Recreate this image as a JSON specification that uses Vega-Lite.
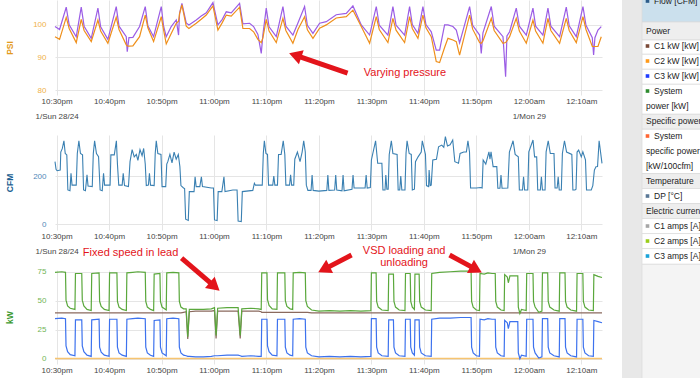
{
"$schema": "https://vega.github.io/schema/vega-lite/v6.json",
"background": "white",
"padding": {"left": 5, "top": 0, "right": 0, "bottom": 0},
"config": {
 "font": "Liberation Sans",
 "view": {"stroke": null},
 "axis": {"domain": false, "ticks": false, "gridColor": "#e5e5e5", "gridWidth": 1, "labelFontSize": 8, "titleFontSize": 8.5, "titleFontWeight": "bold"},
 "axisX": {"labelColor": "#444", "labelPadding": 2, "labelLineHeight": 15, "labelFlush": false, "labelOverlap": false},
 "axisY": {"labelPadding": 9, "titleX": -46, "titleBaseline": "middle", "titleAngle": -90}
},
"datasets": {
 "psi": [
  {"m":-0.3,"a":99.4,"b":96.3},{"m":0.57,"a":98.5,"b":95.5},{"m":1.84,"a":105.3,"b":102.2},{"m":2.4,"a":99.9,"b":98.8},{"m":3.75,"a":96.3,"b":94.5},
  {"m":4.7,"a":105.3,"b":101.6},{"m":5.25,"a":99.5,"b":98.2},{"m":6.61,"a":95.8,"b":94.8},{"m":7.88,"a":105.0,"b":101.4},{"m":8.4,"a":99.3,"b":98.0},
  {"m":9.78,"a":95.5,"b":94.3},{"m":11.37,"a":105.5,"b":102.2},{"m":11.9,"a":99.5,"b":98.5},{"m":13.28,"a":96.3,"b":93.8},{"m":13.47,"a":91.7,"b":93.5},
  {"m":13.79,"a":96.0,"b":93.4},{"m":14.55,"a":96.1,"b":93.5},{"m":15.82,"a":99.4,"b":96.3},{"m":16.9,"a":105.5,"b":102.9},{"m":17.4,"a":99.6,"b":99.0},
  {"m":18.49,"a":96.3,"b":94.8},{"m":19.95,"a":105.5,"b":102.4},{"m":20.4,"a":99.5,"b":98.3},{"m":20.9,"a":96.3,"b":94.1},{"m":21.85,"a":99.4,"b":97.3},
  {"m":22.81,"a":101.4,"b":100.4},{"m":23.25,"a":96.8,"b":101.0},{"m":23.44,"a":103.5,"b":103.3},{"m":23.89,"a":106.5,"b":106.0},{"m":24.71,"a":100.5,"b":99.5},
  {"m":25.22,"a":99.9,"b":98.8},{"m":26.62,"a":101.4,"b":100.4},{"m":27.57,"a":102.6,"b":101.6},{"m":28.53,"a":103.6,"b":102.9},{"m":29.8,"a":106.7,"b":105.7},
  {"m":30.75,"a":99.9,"b":98.3},{"m":31.58,"a":101.6,"b":100.6},{"m":32.34,"a":103.9,"b":102.9},{"m":33.29,"a":103.6,"b":102.6},{"m":34.88,"a":106.5,"b":105.3},
  {"m":35.51,"a":100.2,"b":98.8},{"m":36.79,"a":100.4,"b":98.8},{"m":37.55,"a":99.4,"b":97.8},{"m":38.37,"a":97.0,"b":95.5},{"m":39.01,"a":91.2,"b":94.5},
  {"m":39.33,"a":97.0,"b":96.0},{"m":39.96,"a":105.0,"b":101.6},{"m":40.5,"a":99.3,"b":98.0},{"m":41.87,"a":96.3,"b":94.5},{"m":43.14,"a":105.5,"b":101.9},
  {"m":43.7,"a":99.5,"b":98.2},{"m":45.04,"a":96.8,"b":94.3},{"m":46.0,"a":100.5,"b":98.5},{"m":47.27,"a":105.5,"b":102.4},{"m":47.8,"a":99.8,"b":98.4},
  {"m":48.86,"a":97.3,"b":95.8},{"m":50.13,"a":100.4,"b":98.9},{"m":51.4,"a":100.9,"b":99.9},{"m":53.3,"a":103.0,"b":102.0},{"m":55.21,"a":103.4,"b":102.4},
  {"m":56.48,"a":105.7,"b":104.4},{"m":58.07,"a":99.9,"b":99.4},{"m":59.66,"a":96.8,"b":94.3},{"m":60.93,"a":105.5,"b":102.4},{"m":61.5,"a":99.8,"b":98.5},
  {"m":63.15,"a":96.8,"b":94.5},{"m":64.1,"a":105.5,"b":101.9},{"m":64.7,"a":99.8,"b":98.3},{"m":66.33,"a":96.8,"b":94.5},{"m":67.28,"a":105.5,"b":102.4},
  {"m":67.8,"a":100.0,"b":98.8},{"m":68.87,"a":97.3,"b":95.8},{"m":69.82,"a":105.5,"b":102.9},{"m":70.4,"a":100.0,"b":99.0},{"m":71.41,"a":97.8,"b":96.3},
  {"m":72.36,"a":92.2,"b":88.7},{"m":73.0,"a":92.2,"b":88.4},{"m":73.95,"a":99.9,"b":93.0},{"m":74.59,"a":99.9,"b":95.8},{"m":75.54,"a":99.4,"b":95.3},
  {"m":76.18,"a":98.3,"b":94.8},{"m":76.81,"a":94.4,"b":90.7},{"m":78.72,"a":105.5,"b":102.9},{"m":79.3,"a":99.8,"b":98.6},{"m":80.62,"a":96.8,"b":94.5},
  {"m":80.94,"a":91.2,"b":94.3},{"m":81.26,"a":97.5,"b":95.0},{"m":82.85,"a":105.5,"b":101.9},{"m":83.4,"a":99.5,"b":98.2},{"m":85.08,"a":96.3,"b":94.3},
  {"m":85.58,"a":84.1,"b":94.5},{"m":85.83,"a":96.5,"b":95.0},{"m":86.34,"a":97.8,"b":96.3},{"m":87.61,"a":105.0,"b":101.9},{"m":88.2,"a":99.5,"b":98.0},
  {"m":89.52,"a":96.8,"b":94.3},{"m":90.79,"a":105.0,"b":101.4},{"m":91.3,"a":99.5,"b":98.0},{"m":92.69,"a":96.8,"b":94.3},{"m":93.65,"a":105.0,"b":101.9},
  {"m":94.2,"a":99.5,"b":98.2},{"m":95.87,"a":96.3,"b":94.3},{"m":97.14,"a":105.3,"b":101.9},{"m":97.7,"a":99.6,"b":98.2},{"m":99.05,"a":96.3,"b":94.5},
  {"m":100.32,"a":105.5,"b":102.4},{"m":100.9,"a":99.8,"b":98.5},{"m":102.1,"a":96.0,"b":93.3},{"m":102.35,"a":90.7,"b":93.3},{"m":102.6,"a":96.0,"b":93.3},
  {"m":103.18,"a":98.3,"b":93.3},{"m":103.81,"a":99.4,"b":96.3}
 ],
 "cfm": [
  {"m":-0.3,"v":260},{"m":-0.1,"v":228},{"m":0.1,"v":222},{"m":0.7,"v":225},{"m":0.8,"v":300},{"m":1.1,"v":315},{"m":1.4,"v":347},{"m":1.65,"v":294},{"m":1.95,"v":288},{"m":2.15,"v":142},
  {"m":2.55,"v":139},{"m":2.75,"v":211},{"m":2.95,"v":162},{"m":3.75,"v":162},{"m":3.95,"v":294},{"m":4.25,"v":347},{"m":4.55,"v":294},{"m":4.95,"v":288},{"m":5.15,"v":142},{"m":5.5,"v":139},
  {"m":5.8,"v":205},{"m":6.0,"v":158},{"m":6.8,"v":156},{"m":7.0,"v":294},{"m":7.25,"v":347},{"m":7.6,"v":294},{"m":8.0,"v":281},{"m":8.3,"v":142},{"m":8.7,"v":139},{"m":8.95,"v":211},
  {"m":9.15,"v":162},{"m":10.2,"v":162},{"m":10.35,"v":288},{"m":11.0,"v":288},{"m":11.4,"v":347},{"m":11.6,"v":250},{"m":11.85,"v":162},{"m":12.5,"v":162},{"m":12.7,"v":211},{"m":12.95,"v":160},
  {"m":13.7,"v":156},{"m":14.0,"v":260},{"m":14.4,"v":310},{"m":14.8,"v":280},{"m":15.2,"v":290},{"m":15.5,"v":265},{"m":15.9,"v":310},{"m":16.3,"v":285},{"m":16.6,"v":315},{"m":16.9,"v":250},
  {"m":17.1,"v":160},{"m":17.5,"v":162},{"m":17.7,"v":211},{"m":17.9,"v":162},{"m":18.6,"v":160},{"m":18.8,"v":294},{"m":19.0,"v":347},{"m":19.3,"v":294},{"m":19.9,"v":290},{"m":20.1,"v":156},
  {"m":20.8,"v":156},{"m":21.0,"v":250},{"m":21.2,"v":260},{"m":21.6,"v":290},{"m":22.0,"v":255},{"m":22.4,"v":300},{"m":22.8,"v":270},{"m":23.2,"v":290},{"m":23.5,"v":240},{"m":23.7,"v":160},
  {"m":24.2,"v":150},{"m":24.4,"v":148},{"m":24.6,"v":20},{"m":25.1,"v":15},{"m":25.3,"v":135},{"m":26.2,"v":135},{"m":26.4,"v":197},{"m":26.6,"v":156},{"m":27.3,"v":156},{"m":27.6,"v":197},
  {"m":27.8,"v":156},{"m":29.5,"v":150},{"m":29.9,"v":150},{"m":30.1,"v":17},{"m":30.6,"v":14},{"m":30.8,"v":135},{"m":31.5,"v":135},{"m":31.9,"v":197},{"m":32.1,"v":135},{"m":33.6,"v":142},
  {"m":34.4,"v":142},{"m":34.6,"v":12},{"m":35.2,"v":10},{"m":35.4,"v":135},{"m":37.4,"v":140},{"m":37.7,"v":170},{"m":37.9,"v":162},{"m":39.2,"v":162},{"m":39.4,"v":294},{"m":39.6,"v":347},
  {"m":39.9,"v":294},{"m":40.2,"v":290},{"m":40.4,"v":162},{"m":41.2,"v":162},{"m":41.4,"v":200},{"m":41.6,"v":162},{"m":42.1,"v":162},{"m":42.3,"v":290},{"m":42.8,"v":290},{"m":43.2,"v":347},
  {"m":43.5,"v":290},{"m":43.7,"v":162},{"m":44.4,"v":162},{"m":44.6,"v":205},{"m":44.8,"v":162},{"m":45.2,"v":162},{"m":45.4,"v":270},{"m":45.9,"v":300},{"m":46.4,"v":260},{"m":46.8,"v":300},
  {"m":47.1,"v":347},{"m":47.4,"v":300},{"m":47.6,"v":162},{"m":47.9,"v":140},{"m":48.5,"v":140},{"m":48.7,"v":204},{"m":48.9,"v":140},{"m":50.0,"v":137},{"m":51.5,"v":140},{"m":51.7,"v":204},
  {"m":51.9,"v":140},{"m":53.0,"v":142},{"m":53.2,"v":204},{"m":53.4,"v":142},{"m":54.4,"v":138},{"m":54.6,"v":204},{"m":54.8,"v":138},{"m":56.3,"v":145},{"m":56.5,"v":204},{"m":56.7,"v":150},
  {"m":58.8,"v":150},{"m":59.0,"v":204},{"m":59.2,"v":150},{"m":59.8,"v":152},{"m":60.0,"v":267},{"m":60.8,"v":347},{"m":61.2,"v":253},{"m":62.0,"v":253},{"m":62.2,"v":142},{"m":62.6,"v":142},
  {"m":62.75,"v":204},{"m":62.95,"v":145},{"m":63.2,"v":145},{"m":63.4,"v":290},{"m":63.8,"v":347},{"m":64.1,"v":294},{"m":64.9,"v":290},{"m":65.1,"v":142},{"m":65.4,"v":142},{"m":65.6,"v":200},
  {"m":65.8,"v":142},{"m":66.4,"v":142},{"m":66.6,"v":294},{"m":66.8,"v":347},{"m":67.2,"v":294},{"m":67.6,"v":290},{"m":67.8,"v":142},{"m":68.2,"v":145},{"m":68.4,"v":260},{"m":68.9,"v":280},
  {"m":69.5,"v":300},{"m":69.7,"v":347},{"m":70.3,"v":290},{"m":70.5,"v":160},{"m":70.9,"v":156},{"m":71.0,"v":225},{"m":71.2,"v":160},{"m":71.4,"v":162},{"m":71.7,"v":267},{"m":72.4,"v":270},
  {"m":72.8,"v":322},{"m":73.4,"v":329},{"m":73.8,"v":320},{"m":74.1,"v":364},{"m":74.5,"v":325},{"m":75.0,"v":330},{"m":75.5,"v":350},{"m":75.9,"v":260},{"m":76.6,"v":253},{"m":76.9,"v":294},
  {"m":77.6,"v":300},{"m":78.1,"v":300},{"m":78.4,"v":347},{"m":78.7,"v":300},{"m":78.9,"v":150},{"m":80.0,"v":150},{"m":80.8,"v":152},{"m":81.1,"v":150},{"m":81.3,"v":267},{"m":81.8,"v":250},
  {"m":82.4,"v":301},{"m":82.6,"v":270},{"m":82.8,"v":301},{"m":83.2,"v":239},{"m":83.9,"v":239},{"m":84.1,"v":149},{"m":84.5,"v":149},{"m":84.7,"v":204},{"m":84.9,"v":149},{"m":86.0,"v":150},
  {"m":86.3,"v":300},{"m":87.0,"v":347},{"m":87.4,"v":290},{"m":88.0,"v":280},{"m":88.2,"v":142},{"m":88.8,"v":142},{"m":89.0,"v":197},{"m":89.2,"v":142},{"m":89.8,"v":142},{"m":90.0,"v":301},
  {"m":90.8,"v":350},{"m":91.1,"v":280},{"m":91.5,"v":280},{"m":91.7,"v":142},{"m":92.2,"v":142},{"m":92.4,"v":197},{"m":92.6,"v":142},{"m":93.1,"v":142},{"m":93.3,"v":301},{"m":93.7,"v":347},
  {"m":94.1,"v":294},{"m":94.8,"v":294},{"m":95.0,"v":150},{"m":95.4,"v":150},{"m":95.6,"v":197},{"m":95.8,"v":142},{"m":96.2,"v":142},{"m":96.4,"v":294},{"m":96.8,"v":347},{"m":97.2,"v":300},
  {"m":98.2,"v":290},{"m":98.4,"v":142},{"m":98.8,"v":142},{"m":99.0,"v":145},{"m":99.2,"v":300},{"m":99.5,"v":308},{"m":100.0,"v":280},{"m":100.3,"v":301},{"m":100.8,"v":267},{"m":101.0,"v":142},
  {"m":101.9,"v":142},{"m":102.2,"v":160},{"m":102.5,"v":225},{"m":102.8,"v":239},{"m":103.1,"v":240},{"m":103.4,"v":347},{"m":103.95,"v":253}
 ],
 "kw": [
  {"m":-0.3,"c1":39.5,"c3":34.5,"sys":74.5},{"m":1.0,"c1":39.5,"c3":35,"sys":75},{"m":1.7,"c1":39.5,"c3":34.5,"sys":74.5},{"m":1.8,"c1":39.5,"c3":11,"sys":50.5},{"m":2.1,"c1":39.5,"c3":6,"sys":45.5},
  {"m":2.6,"c1":39.5,"c3":3.5,"sys":43.5},{"m":3.5,"c1":39.5,"c3":2.5,"sys":42.5},{"m":3.6,"c1":39.5,"c3":33.5,"sys":73.5},{"m":4.8,"c1":39.5,"c3":33.5,"sys":73.5},{"m":4.9,"c1":39.5,"c3":11,"sys":50.5},
  {"m":5.2,"c1":39.5,"c3":6,"sys":45.5},{"m":5.8,"c1":39.5,"c3":3,"sys":42.5},{"m":6.6,"c1":39.5,"c3":2,"sys":41.5},{"m":6.7,"c1":39.5,"c3":33.5,"sys":73.5},{"m":8.1,"c1":39.5,"c3":34,"sys":74},
  {"m":8.2,"c1":39.5,"c3":10,"sys":49.5},{"m":8.5,"c1":39.5,"c3":5.5,"sys":45},{"m":9.1,"c1":39.5,"c3":3,"sys":42.5},{"m":10.0,"c1":39.5,"c3":2,"sys":41.5},{"m":10.1,"c1":39.5,"c3":34,"sys":74},
  {"m":11.5,"c1":39.5,"c3":34,"sys":74},{"m":11.6,"c1":39.5,"c3":10,"sys":49.5},{"m":11.9,"c1":39.5,"c3":5,"sys":44.5},{"m":12.5,"c1":39.5,"c3":3,"sys":42.5},{"m":13.3,"c1":39.5,"c3":2,"sys":41.5},
  {"m":13.4,"c1":39.5,"c3":34,"sys":74},{"m":14.5,"c1":39.5,"c3":34.5,"sys":74.5},{"m":15.5,"c1":39.5,"c3":35,"sys":75},{"m":16.9,"c1":39.5,"c3":34.5,"sys":74.5},{"m":17.0,"c1":39.5,"c3":10,"sys":49.5},
  {"m":17.3,"c1":39.5,"c3":5,"sys":44.5},{"m":17.9,"c1":39.5,"c3":3,"sys":42.5},{"m":18.5,"c1":39.5,"c3":2,"sys":41.5},{"m":18.6,"c1":39.5,"c3":33,"sys":73},{"m":19.7,"c1":39.5,"c3":33.5,"sys":73.5},
  {"m":19.8,"c1":39.5,"c3":10,"sys":49.5},{"m":20.1,"c1":39.5,"c3":5,"sys":44.5},{"m":20.9,"c1":39.5,"c3":2.5,"sys":42},{"m":21.0,"c1":39.5,"c3":34.5,"sys":74},{"m":22.2,"c1":39.5,"c3":35,"sys":74.5},
  {"m":23.3,"c1":39.5,"c3":34.5,"sys":74},{"m":23.4,"c1":39.5,"c3":10,"sys":49.5},{"m":23.7,"c1":39.5,"c3":5,"sys":44.5},{"m":24.2,"c1":40,"c3":3,"sys":43},{"m":24.7,"c1":40.5,"c3":2.5,"sys":43},
  {"m":25.0,"c1":17,"c3":2,"sys":19},{"m":25.3,"c1":40.5,"c3":2,"sys":42.5},{"m":26.5,"c1":41,"c3":1.5,"sys":42.5},{"m":28.0,"c1":41,"c3":1.5,"sys":42.5},{"m":29.5,"c1":41,"c3":2,"sys":43},
  {"m":30.1,"c1":41.5,"c3":2.5,"sys":44},{"m":30.4,"c1":17.5,"c3":2.5,"sys":20},{"m":30.7,"c1":41,"c3":2.5,"sys":43.5},{"m":32.5,"c1":41,"c3":3,"sys":44},{"m":34.6,"c1":41,"c3":3,"sys":44},
  {"m":35.0,"c1":17.5,"c3":2.5,"sys":20},{"m":35.3,"c1":41,"c3":2,"sys":43},{"m":37.0,"c1":41,"c3":2.5,"sys":43.5},{"m":38.5,"c1":41,"c3":2,"sys":43},{"m":39.0,"c1":40.5,"c3":2,"sys":42.5},
  {"m":39.1,"c1":40,"c3":34,"sys":74},{"m":40.1,"c1":40,"c3":34,"sys":74},{"m":40.2,"c1":40,"c3":11,"sys":51},{"m":40.5,"c1":40,"c3":6,"sys":46},{"m":41.1,"c1":40,"c3":3,"sys":43},
  {"m":42.0,"c1":40,"c3":2.5,"sys":42.5},{"m":42.1,"c1":40,"c3":34,"sys":74},{"m":43.5,"c1":40,"c3":34,"sys":74},{"m":43.6,"c1":40,"c3":10,"sys":50},{"m":43.9,"c1":40,"c3":5,"sys":45},
  {"m":44.5,"c1":40,"c3":3,"sys":43},{"m":45.0,"c1":40,"c3":2.5,"sys":42.5},{"m":45.1,"c1":40,"c3":34,"sys":74},{"m":46.3,"c1":40,"c3":34.5,"sys":74.5},{"m":47.4,"c1":40,"c3":34,"sys":74},
  {"m":47.5,"c1":40,"c3":10,"sys":50},{"m":47.8,"c1":40,"c3":5,"sys":45},{"m":48.6,"c1":39.5,"c3":2.5,"sys":42},{"m":50.0,"c1":39.5,"c3":1.5,"sys":41},{"m":52.0,"c1":39.5,"c3":2,"sys":41.5},
  {"m":54.0,"c1":39.5,"c3":1.5,"sys":41},{"m":56.0,"c1":39.5,"c3":2,"sys":41.5},{"m":58.0,"c1":39.5,"c3":1.5,"sys":41},{"m":59.9,"c1":39.5,"c3":2,"sys":41.5},{"m":60.0,"c1":39.5,"c3":34.5,"sys":74},
  {"m":60.9,"c1":39.5,"c3":34.5,"sys":74},{"m":61.0,"c1":39.5,"c3":10,"sys":49.5},{"m":61.3,"c1":39.5,"c3":5,"sys":44.5},{"m":62.0,"c1":39.5,"c3":2.5,"sys":42},{"m":63.2,"c1":39.5,"c3":2,"sys":41.5},
  {"m":63.3,"c1":39.5,"c3":33.5,"sys":73},{"m":64.2,"c1":39.5,"c3":33.5,"sys":73},{"m":64.3,"c1":39.5,"c3":10,"sys":49.5},{"m":64.6,"c1":39.5,"c3":5,"sys":44.5},{"m":65.3,"c1":39.5,"c3":2.5,"sys":42},
  {"m":66.4,"c1":39.5,"c3":2,"sys":41.5},{"m":66.5,"c1":39.5,"c3":34,"sys":73.5},{"m":67.4,"c1":39.5,"c3":34,"sys":73.5},{"m":67.5,"c1":39.5,"c3":10,"sys":49.5},{"m":67.8,"c1":39.5,"c3":5,"sys":44.5},
  {"m":68.2,"c1":39.5,"c3":3,"sys":42.5},{"m":68.3,"c1":39.5,"c3":33.5,"sys":73},{"m":69.1,"c1":39.5,"c3":33.5,"sys":73},{"m":69.2,"c1":39.5,"c3":10,"sys":49.5},{"m":69.5,"c1":39.5,"c3":5,"sys":44.5},
  {"m":70.3,"c1":39.5,"c3":2.5,"sys":42},{"m":71.4,"c1":39.5,"c3":2,"sys":41.5},{"m":71.5,"c1":39.5,"c3":34,"sys":73.5},{"m":73.0,"c1":39.5,"c3":35,"sys":74.5},{"m":75.0,"c1":39.5,"c3":35,"sys":75},
  {"m":77.0,"c1":39.5,"c3":35.5,"sys":75.5},{"m":79.0,"c1":39.5,"c3":35.5,"sys":75.5},{"m":79.1,"c1":39.5,"c3":10,"sys":49.5},{"m":79.4,"c1":39.5,"c3":5,"sys":44.5},{"m":80.0,"c1":39.5,"c3":2.5,"sys":42},
  {"m":80.6,"c1":39.5,"c3":2,"sys":41.5},{"m":80.7,"c1":39.5,"c3":34,"sys":73.5},{"m":81.5,"c1":39.5,"c3":33.5,"sys":73},{"m":82.2,"c1":39.5,"c3":34.5,"sys":74},{"m":83.0,"c1":39.5,"c3":34,"sys":73.5},
  {"m":83.6,"c1":39.5,"c3":34,"sys":73.5},{"m":83.7,"c1":39.5,"c3":10,"sys":49.5},{"m":84.0,"c1":39.5,"c3":5,"sys":44.5},{"m":84.7,"c1":39.5,"c3":2.5,"sys":42},{"m":85.3,"c1":39.5,"c3":2,"sys":41.5},
  {"m":85.4,"c1":39.5,"c3":33,"sys":72.5},{"m":85.9,"c1":39.5,"c3":31,"sys":70.5},{"m":86.1,"c1":39.5,"c3":26,"sys":65.5},{"m":86.4,"c1":39.5,"c3":32,"sys":71.5},{"m":87.9,"c1":39.5,"c3":32,"sys":71.5},
  {"m":88.0,"c1":39.5,"c3":5,"sys":44.5},{"m":88.3,"c1":39.5,"c3":0,"sys":39},{"m":88.6,"c1":39.5,"c3":3,"sys":42.5},{"m":89.5,"c1":39.5,"c3":2,"sys":41.5},{"m":89.6,"c1":39.5,"c3":34,"sys":73.5},
  {"m":90.8,"c1":39.5,"c3":34,"sys":73.5},{"m":90.9,"c1":39.5,"c3":10,"sys":49.5},{"m":91.2,"c1":39.5,"c3":5,"sys":44.5},{"m":91.9,"c1":39.5,"c3":0.5,"sys":40},{"m":92.5,"c1":39.5,"c3":1.5,"sys":41},
  {"m":92.6,"c1":39.5,"c3":34.5,"sys":74},{"m":93.6,"c1":39.5,"c3":34.5,"sys":74},{"m":93.7,"c1":39.5,"c3":10,"sys":49.5},{"m":94.0,"c1":39.5,"c3":5,"sys":44.5},{"m":94.8,"c1":39.5,"c3":2.5,"sys":42},
  {"m":95.8,"c1":39.5,"c3":1.5,"sys":41},{"m":95.9,"c1":39.5,"c3":34.5,"sys":74},{"m":96.9,"c1":39.5,"c3":34.5,"sys":74},{"m":97.0,"c1":39.5,"c3":10,"sys":49.5},{"m":97.3,"c1":39.5,"c3":5,"sys":44.5},
  {"m":98.0,"c1":39.5,"c3":2.5,"sys":42},{"m":99.1,"c1":39.5,"c3":1.5,"sys":41},{"m":99.2,"c1":39.5,"c3":34,"sys":73.5},{"m":100.3,"c1":39.5,"c3":34,"sys":73.5},{"m":100.4,"c1":39.5,"c3":10,"sys":49.5},
  {"m":100.7,"c1":39.5,"c3":5,"sys":44.5},{"m":101.4,"c1":39.5,"c3":2.5,"sys":42},{"m":102.3,"c1":39.5,"c3":2,"sys":41.5},{"m":102.4,"c1":39.5,"c3":33,"sys":72.5},{"m":103.2,"c1":39.5,"c3":32,"sys":71},
  {"m":103.95,"c1":39.5,"c3":31,"sys":70}
 ],
 "c2": [{"m":-0.3,"v":0.2},{"m":103.95,"v":0.2}],
 "notes1": [{"m":66.4,"v":85.3,"text":"Varying pressure"}],
 "arrows1": [{"m":55.46,"v":85.2,"m2":45.87,"v2":90.44}],
 "notes3": [{"m":14.1,"v":91.4,"text":"Fixed speed in lead"},{"m":66.23,"v":93.1,"text":"VSD loading and"},{"m":66.23,"v":82.5,"text":"unloading"}],
 "arrows3": [{"id":"a2","m":23.82,"v":86.8,"m2":29.83,"v2":63.4},{"id":"a3","m":56.22,"v":89.4,"m2":51.32,"v2":77.9},{"id":"a4","m":74.9,"v":89.4,"m2":79.6,"v2":77.9}],
 "lgBands": [
  {"top":-1.2,"bottom":0.4,"kind":"sel"},{"top":0.4,"bottom":1.6,"kind":"head"},{"top":1.6,"bottom":2.55,"kind":"item"},{"top":2.55,"bottom":3.55,"kind":"item"},
  {"top":3.55,"bottom":4.55,"kind":"item"},{"top":4.55,"bottom":6.55,"kind":"item"},{"top":6.55,"bottom":7.55,"kind":"head"},{"top":7.55,"bottom":10.5,"kind":"item"},
  {"top":10.5,"bottom":11.5,"kind":"head"},{"top":11.5,"bottom":12.5,"kind":"item"},{"top":12.5,"bottom":13.5,"kind":"head"},{"top":13.5,"bottom":14.5,"kind":"item"},
  {"top":14.5,"bottom":15.5,"kind":"item"},{"top":15.5,"bottom":16.55,"kind":"item"},{"top":16.55,"bottom":24.2,"kind":"rest"}
 ],
 "lgText": [
  {"line":-1,"text":"Flow [CFM]","kind":"item","key":"flow"},
  {"line":1,"text":"Power","kind":"head"},
  {"line":2,"text":"C1 kW [kW]","kind":"item","key":"c1kw"},
  {"line":3,"text":"C2 kW [kW]","kind":"item","key":"c2kw"},
  {"line":4,"text":"C3 kW [kW]","kind":"item","key":"c3kw"},
  {"line":5,"text":"System","kind":"item","key":"sys"},
  {"line":6,"text":"power [kW]","kind":"cont"},
  {"line":7,"text":"Specific power","kind":"head"},
  {"line":8,"text":"System","kind":"item","key":"spec"},
  {"line":9,"text":"specific power","kind":"cont"},
  {"line":10,"text":"[kW/100cfm]","kind":"cont"},
  {"line":11,"text":"Temperature","kind":"head"},
  {"line":12,"text":"DP [°C]","kind":"item","key":"dp"},
  {"line":13,"text":"Electric current","kind":"head"},
  {"line":14,"text":"C1 amps [A]","kind":"item","key":"c1a"},
  {"line":15,"text":"C2 amps [A]","kind":"item","key":"c2a"},
  {"line":16,"text":"C3 amps [A]","kind":"item","key":"c3a"}
 ]
},
"spacing": 17,
"resolve": {"scale": {"color": "independent", "fill": "independent"}},
"hconcat": [
 {
  "vconcat": [
   {
    "width": 547, "height": 95,
    "encoding": {
     "x": {"field":"m","type":"quantitative","scale":{"domain":[-0.3,103.95],"nice":false,"zero":false},
       "axis":{"values":[0,10,20,30,40,50,60,70,80,90,100],"title":null,"grid":true,
         "labelExpr":"datum.value == 0 ? ['10:30pm','1/Sun 28/24'] : datum.value == 90 ? ['12:00am','1/Mon 29'] : ['10:30pm','10:40pm','10:50pm','11:00pm','11:10pm','11:20pm','11:30pm','11:40pm','11:50pm','12:00am','12:10am'][round(datum.value/10)]"}},
     "y": {"field":"v","type":"quantitative","scale":{"domain":[78.5,107.5],"nice":false,"zero":false},
       "axis":{"values":[80,90,100],"title":"PSI","titleColor":"#e39b1d","labelColor":"#efb24a","grid":true}}
    },
    "layer": [
     {"data":{"name":"psi"},"transform":[{"fold":["a","b"],"as":["s","v"]}],
      "mark":{"type":"line","strokeWidth":1.2},
      "encoding":{"color":{"field":"s","type":"nominal","scale":{"domain":["a","b"],"range":["#9b5de5","#ef8f1a"]},"legend":null}}},
     {"data":{"name":"arrows1"},"mark":{"type":"rule","color":"#e3141b","strokeWidth":5},
      "encoding":{"x2":{"field":"m2"},"y2":{"field":"v2"}}},
     {"data":{"name":"arrows1"},"mark":{"type":"point","shape":"triangle","filled":true,"opacity":1,"color":"#e3141b","size":220,"angle":288.7},
      "encoding":{"x":{"field":"m2","type":"quantitative","scale":{"domain":[-0.3,103.95],"nice":false,"zero":false}},
                  "y":{"field":"v2","type":"quantitative","scale":{"domain":[78.5,107.5],"nice":false,"zero":false}}}},
     {"data":{"name":"notes1"},"mark":{"type":"text","color":"#e3141b","fontSize":11,"align":"center","baseline":"middle"},
      "encoding":{"text":{"field":"text"}}}
    ]
   },
   {
    "width": 547, "height": 95,
    "encoding": {
     "x": {"field":"m","type":"quantitative","scale":{"domain":[-0.3,103.95],"nice":false,"zero":false},
       "axis":{"values":[0,10,20,30,40,50,60,70,80,90,100],"title":null,"grid":true,
         "labelExpr":"datum.value == 0 ? ['10:30pm','1/Sun 28/24'] : datum.value == 90 ? ['12:00am','1/Mon 29'] : ['10:30pm','10:40pm','10:50pm','11:00pm','11:10pm','11:20pm','11:30pm','11:40pm','11:50pm','12:00am','12:10am'][round(datum.value/10)]"}},
     "y": {"field":"v","type":"quantitative","scale":{"domain":[-25,371],"nice":false,"zero":false},
       "axis":{"values":[0,200],"title":"CFM","titleColor":"#1d5f92","labelColor":"#5088b8","grid":true}}
    },
    "layer": [
     {"data":{"name":"cfm"},"mark":{"type":"line","strokeWidth":1.1,"color":"#3a80b2"}}
    ]
   },
   {
    "width": 547, "height": 94,
    "encoding": {
     "x": {"field":"m","type":"quantitative","scale":{"domain":[-0.3,103.95],"nice":false,"zero":false},
       "axis":{"values":[0,10,20,30,40,50,60,70,80,90,100],"title":null,"grid":true,
         "labelExpr":"datum.value == 0 ? ['10:30pm','1/Sun 28/24'] : datum.value == 90 ? ['12:00am','1/Mon 29'] : ['10:30pm','10:40pm','10:50pm','11:00pm','11:10pm','11:20pm','11:30pm','11:40pm','11:50pm','12:00am','12:10am'][round(datum.value/10)]"}},
     "y": {"field":"v","type":"quantitative","scale":{"domain":[-4.6,76.5],"nice":false,"zero":false},
       "axis":{"values":[0,25,50,75],"title":"kW","titleColor":"#3d9a32","labelColor":"#72b556","grid":true}}
    },
    "layer": [
     {"data":{"name":"c2"},"mark":{"type":"line","strokeWidth":1.5,"color":"#f6c470"}},
     {"data":{"name":"kw"},"transform":[{"fold":["c3","c1","sys"],"as":["s","v"]}],
      "mark":{"type":"line","strokeWidth":1.2},
      "encoding":{"color":{"field":"s","type":"nominal","scale":{"domain":["c1","c3","sys"],"range":["#8a6a5e","#3d72ee","#5aa83c"]},"legend":null}}},
     {"data":{"name":"arrows3"},"mark":{"type":"rule","color":"#e3141b","strokeWidth":5},
      "encoding":{"x2":{"field":"m2"},"y2":{"field":"v2"}}},
     {"data":{"name":"arrows3"},"transform":[{"filter":"datum.id == 'a2'"}],
      "mark":{"type":"point","shape":"triangle","filled":true,"opacity":1,"color":"#e3141b","size":220,"angle":130.7},
      "encoding":{"x":{"field":"m2","type":"quantitative","scale":{"domain":[-0.3,103.95],"nice":false,"zero":false}},
                  "y":{"field":"v2","type":"quantitative","scale":{"domain":[-4.6,76.5],"nice":false,"zero":false}}}},
     {"data":{"name":"arrows3"},"transform":[{"filter":"datum.id == 'a3'"}],
      "mark":{"type":"point","shape":"triangle","filled":true,"opacity":1,"color":"#e3141b","size":220,"angle":242.7},
      "encoding":{"x":{"field":"m2","type":"quantitative","scale":{"domain":[-0.3,103.95],"nice":false,"zero":false}},
                  "y":{"field":"v2","type":"quantitative","scale":{"domain":[-4.6,76.5],"nice":false,"zero":false}}}},
     {"data":{"name":"arrows3"},"transform":[{"filter":"datum.id == 'a4'"}],
      "mark":{"type":"point","shape":"triangle","filled":true,"opacity":1,"color":"#e3141b","size":220,"angle":118.1},
      "encoding":{"x":{"field":"m2","type":"quantitative","scale":{"domain":[-0.3,103.95],"nice":false,"zero":false}},
                  "y":{"field":"v2","type":"quantitative","scale":{"domain":[-4.6,76.5],"nice":false,"zero":false}}}},
     {"data":{"name":"notes3"},"mark":{"type":"text","color":"#e3141b","fontSize":11,"align":"center","baseline":"middle"},
      "encoding":{"text":{"field":"text"}}}
    ]
   }
  ],
  "spacing": 40,
  "bounds": "flush",
  "resolve": {"scale": {"color": "independent"}}
 },
 {
  "width": 80, "height": 378,
  "view": {"fill": "#e8e8e8", "stroke": null},
  "layer": [
   {"data":{"name":"lgBands"},"mark":{"type":"rect","clip":true,"stroke":"#dadada","strokeWidth":0.7},
    "encoding":{
     "x":{"datum":20,"type":"quantitative","scale":{"domain":[0,80],"nice":false,"zero":false},"axis":null},
     "x2":{"datum":80},
     "y":{"field":"top","type":"quantitative","scale":{"domain":[-1.067,24.13],"reverse":true,"nice":false,"zero":false},"axis":null},
     "y2":{"field":"bottom"},
     "fill":{"field":"kind","type":"nominal","scale":{"domain":["sel","head","item","rest"],"range":["#cbe0ed","#eeeeee","#ffffff","#f4f4f4"]},"legend":null}}},
   {"data":{"name":"lgText"},"transform":[{"filter":"datum.kind == 'item'"}],
    "mark":{"type":"square","clip":true,"filled":true,"opacity":1,"size":13},
    "encoding":{
     "x":{"datum":25.5,"type":"quantitative","scale":{"domain":[0,80],"nice":false,"zero":false},"axis":null},
     "y":{"field":"line","type":"quantitative","scale":{"domain":[-1.067,24.13],"reverse":true,"nice":false,"zero":false},"axis":null},
     "color":{"field":"key","type":"nominal","scale":{"domain":["flow","c1kw","c2kw","c3kw","sys","spec","dp","c1a","c2a","c3a"],"range":["#2b5c8a","#7a4a38","#ff9a1a","#1f3cff","#2e8b2e","#ff6633","#5a7896","#a6a6a6","#9acd1a","#1aa3d9"]},"legend":null}}},
   {"data":{"name":"lgText"},"transform":[{"filter":"datum.kind == 'item'"}],
    "mark":{"type":"text","clip":true,"align":"left","baseline":"middle","fontSize":8.5,"color":"#222"},
    "encoding":{
     "x":{"datum":32,"type":"quantitative","scale":{"domain":[0,80],"nice":false,"zero":false},"axis":null},
     "y":{"field":"line","type":"quantitative","scale":{"domain":[-1.067,24.13],"reverse":true,"nice":false,"zero":false},"axis":null},
     "text":{"field":"text"}}},
   {"data":{"name":"lgText"},"transform":[{"filter":"datum.kind != 'item'"}],
    "mark":{"type":"text","clip":true,"align":"left","baseline":"middle","fontSize":8.5,"color":"#222"},
    "encoding":{
     "x":{"datum":24,"type":"quantitative","scale":{"domain":[0,80],"nice":false,"zero":false},"axis":null},
     "y":{"field":"line","type":"quantitative","scale":{"domain":[-1.067,24.13],"reverse":true,"nice":false,"zero":false},"axis":null},
     "text":{"field":"text"}}}
  ]
 }
]
}
